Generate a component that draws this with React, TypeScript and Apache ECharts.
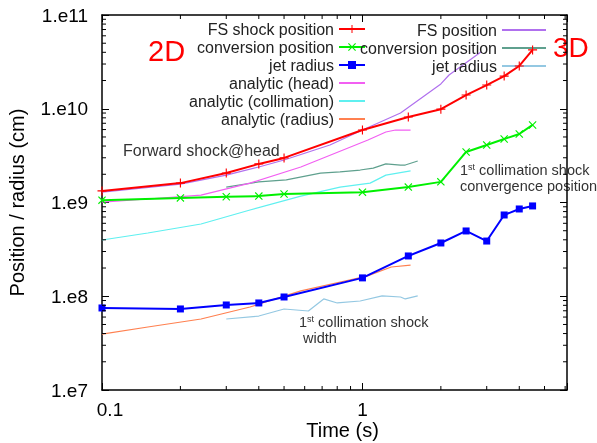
import React, { useEffect, useRef } from 'react';
import * as echarts from 'echarts';

// ---- data ----
const time2D = [0.1, 0.2, 0.3, 0.4, 0.5, 1.0, 1.5, 2.0, 2.5, 3.0, 3.5, 4.0, 4.5];
const fsShock2D = [1.33e9, 1.61e9, 2.06e9, 2.58e9, 2.99e9, 5.93e9, 8.17e9, 9.9e9, 1.4e10, 1.79e10, 2.23e10, 2.86e10, 4.24e10];
const conversion2D = [1.06e9, 1.12e9, 1.15e9, 1.17e9, 1.23e9, 1.29e9, 1.46e9, 1.66e9, 3.46e9, 4.11e9, 4.76e9, 5.38e9, 6.72e9];
const jetRadius2D = [7.5e7, 7.32e7, 8.07e7, 8.48e7, 9.82e7, 1.57e8, 2.69e8, 3.7e8, 4.97e8, 3.88e8, 7.36e8, 8.53e8, 9.19e8];

const headT = [0.1, 0.15, 0.24, 0.37, 0.58, 1.05, 1.23, 1.34, 1.53];
const headR = [1.01e9, 1.09e9, 1.2e9, 1.61e9, 2.39e9, 4.64e9, 5.65e9, 5.93e9, 5.93e9];
const collT = [0.1, 0.15, 0.24, 0.37, 0.58, 0.82, 1.07, 1.23, 1.53];
const collR = [3.98e8, 4.73e8, 5.9e8, 8.32e8, 1.17e9, 1.46e9, 1.61e9, 1.96e9, 2.17e9];
const radT = [0.1, 0.15, 0.24, 0.37, 0.58, 0.89, 1.04, 1.29, 1.53];
const radR = [3.95e7, 4.7e7, 5.72e7, 7.68e7, 1.14e8, 1.49e8, 1.64e8, 2.05e8, 2.15e8];

const fs3DT = [0.1, 0.2, 0.3, 0.4, 0.5, 0.75, 1.0, 1.4, 2.0, 2.15, 2.85];
const fs3DR = [1.29e9, 1.57e9, 1.96e9, 2.39e9, 2.84e9, 4.1e9, 5.93e9, 9.0e9, 1.84e10, 2.29e10, 4.03e10];
const conv3DT = [0.3, 0.4, 0.51, 0.69, 0.82, 0.98, 1.1, 1.23, 1.4, 1.46, 1.63];
const conv3DR = [1.46e9, 1.66e9, 1.74e9, 2.06e9, 2.12e9, 2.22e9, 2.33e9, 2.58e9, 2.51e9, 2.51e9, 2.77e9];
const jet3DT = [0.3, 0.4, 0.5, 0.62, 0.71, 0.8, 0.98, 1.19, 1.4, 1.46, 1.63];
const jet3DR = [5.72e7, 6.15e7, 7.31e7, 6.96e7, 9.36e7, 8.48e7, 8.9e7, 1.01e8, 9.82e7, 9.36e7, 1.01e8];

const xMinorTicks = [0.2, 0.3, 0.4, 0.5, 0.6, 0.7, 0.8, 0.9, 2, 3, 4, 5, 6];
const yDecades = [1e7, 1e8, 1e9, 1e10];
const yMultiples = [2, 3, 4, 5, 6, 7, 8, 9];

const legend2D = ['FS shock position', 'conversion position', 'jet radius', 'analytic (head)', 'analytic (collimation)', 'analytic (radius)'];
const legend3D = ['FS position', 'conversion position (3D)', 'jet radius (3D)'];

const X_MIN = 0.1;
const X_MAX = 6.1;
const Y_MIN = 1e7;
const Y_MAX = 1e11;

const FONT = '"Liberation Sans", Arial, sans-serif';

const PLUS = 'path://M3.5,0h1v3.5h3.5v1h-3.5v3.5h-1v-3.5h-3.5v-1h3.5z';
const CROSS = 'path://M0,0.8L0.8,0L4,3.2L7.2,0L8,0.8L4.8,4L8,7.2L7.2,8L4,4.8L0.8,8L0,7.2L3.2,4z';

const zip = (a: number[], b: number[]) => a.map((v, i) => [v, b[i]]);

export default function App() {
  const ref = useRef<HTMLDivElement>(null);
  useEffect(() => {
    if (!ref.current) return;
    const chart = echarts.init(ref.current, undefined, { renderer: 'svg' });
    const yMinor: number[] = [];
    yDecades.forEach((d) => yMultiples.forEach((m) => yMinor.push(d * m)));

    const axisLine = { show: true, lineStyle: { color: '#000', width: 1.5 } };
    const majorTick = { show: true, inside: true, length: 7, lineStyle: { color: '#000', width: 1 } };

    const lineSeries = (name: string, data: number[][], color: string, width: number, symbol: string, symbolSize: number, z: number) => ({
      type: 'line',
      name,
      data,
      xAxisIndex: 0,
      yAxisIndex: 0,
      symbol,
      symbolSize,
      showSymbol: symbol !== 'none',
      lineStyle: { color, width },
      itemStyle: symbol === 'none' ? { color, opacity: 0 } : { color },
      z,
    });

    const noMark = (name: string) => ({ name, itemStyle: { opacity: 0 } });

    const option: any = {
      animation: false,
      grid: { left: 102, right: 30, top: 15, bottom: 53, containLabel: false, outerBoundsMode: 'none' },
      xAxis: [
        {
          type: 'log', min: X_MIN, max: X_MAX, position: 'bottom',
          axisLine, axisTick: majorTick, splitLine: { show: false },
          axisLabel: {
            margin: 10, fontSize: 19, color: '#000', fontFamily: FONT,
            formatter: (v: number) => (Math.abs(v - 0.1) < 1e-6 ? '{s|0.1}' : Math.abs(v - 1) < 1e-6 ? '1' : ''),
            rich: { s: { fontSize: 19, color: '#000', fontFamily: FONT, padding: [0, 0, 0, 16] } },
          },
          name: 'Time (s)', nameLocation: 'middle', nameGap: 30, nameMoveOverlap: false,
          nameTextStyle: { fontSize: 20, color: '#000', fontFamily: FONT, padding: [0, 0, 0, 16] },
        },
        {
          type: 'log', min: X_MIN, max: X_MAX, position: 'top',
          axisLine, axisTick: majorTick, splitLine: { show: false }, axisLabel: { show: false },
        },
      ],
      yAxis: [
        {
          type: 'log', min: Y_MIN, max: Y_MAX, position: 'left',
          axisLine, axisTick: majorTick, splitLine: { show: false },
          axisLabel: {
            margin: 14, fontSize: 19, color: '#000', fontFamily: FONT, padding: [8, 0, 0, 0],
            formatter: (v: number) => '1.e' + Math.round(Math.log10(v)),
          },
          name: 'Position / radius (cm)', nameLocation: 'middle', nameGap: 75,
          nameTextStyle: { fontSize: 20, color: '#000', fontFamily: FONT },
        },
        {
          type: 'log', min: Y_MIN, max: Y_MAX, position: 'right',
          axisLine, axisTick: majorTick, splitLine: { show: false }, axisLabel: { show: false },
        },
      ],
      legend: [
        {
          data: [legend2D[0], legend2D[1], legend2D[2], noMark(legend2D[3]), noMark(legend2D[4]), noMark(legend2D[5])],
          orient: 'vertical', right: 231, top: 21, align: 'right',
          itemWidth: 26, itemHeight: 10, itemGap: 2, padding: 0, selectedMode: false,
          textStyle: { fontSize: 16, color: '#222', fontFamily: FONT },
        },
        {
          data: legend3D.map(noMark), orient: 'vertical', right: 50, top: 22, align: 'right',
          itemWidth: 44, itemHeight: 10, itemGap: 2, padding: 0, selectedMode: false,
          formatter: (n: string) => n.replace(' (3D)', ''),
          textStyle: { fontSize: 16, color: '#222', fontFamily: FONT },
        },
      ],
      series: [
        lineSeries('FS position', zip(fs3DT, fs3DR), '#b070ee', 1.2, 'none', 0, 3),
        lineSeries('conversion position (3D)', zip(conv3DT, conv3DR), '#5fa08e', 1.2, 'none', 0, 3),
        lineSeries('jet radius (3D)', zip(jet3DT, jet3DR), '#94c8e2', 1.2, 'none', 0, 3),
        lineSeries('analytic (head)', zip(headT, headR), '#f25ff2', 1.2, 'none', 0, 4),
        lineSeries('analytic (collimation)', zip(collT, collR), '#5ff0f0', 1.2, 'none', 0, 4),
        lineSeries('analytic (radius)', zip(radT, radR), '#ff8050', 1.2, 'none', 0, 4),
        lineSeries('FS shock position', zip(time2D, fsShock2D), '#ff0000', 2, PLUS, 9, 6),
        lineSeries('conversion position', zip(time2D, conversion2D), '#00f000', 2, CROSS, 8, 6),
        lineSeries('jet radius', zip(time2D, jetRadius2D), '#0000ff', 2, 'rect', 7, 6),
        {
          type: 'custom', xAxisIndex: 0, yAxisIndex: 0, silent: true, clip: false, z: 10,
          data: xMinorTicks.map((v) => [v, Y_MIN]),
          renderItem: (_p: any, api: any) => {
            const v = api.value(0);
            const b = api.coord([v, Y_MIN]);
            const t = api.coord([v, Y_MAX]);
            return {
              type: 'group',
              children: [
                { type: 'line', shape: { x1: b[0], y1: b[1], x2: b[0], y2: b[1] - 4 }, style: { stroke: '#000', lineWidth: 1 } },
                { type: 'line', shape: { x1: t[0], y1: t[1], x2: t[0], y2: t[1] + 4 }, style: { stroke: '#000', lineWidth: 1 } },
              ],
            };
          },
        },
        {
          type: 'custom', xAxisIndex: 0, yAxisIndex: 0, silent: true, clip: false, z: 10,
          data: yMinor.map((v) => [X_MIN, v]),
          renderItem: (_p: any, api: any) => {
            const v = api.value(1);
            const l = api.coord([X_MIN, v]);
            const r = api.coord([X_MAX, v]);
            return {
              type: 'group',
              children: [
                { type: 'line', shape: { x1: l[0], y1: l[1], x2: l[0] + 4, y2: l[1] }, style: { stroke: '#000', lineWidth: 1 } },
                { type: 'line', shape: { x1: r[0], y1: r[1], x2: r[0] - 4, y2: r[1] }, style: { stroke: '#000', lineWidth: 1 } },
              ],
            };
          },
        },
      ],
      graphic: [
        { type: 'text', x: 148, y: 51, style: { text: '2D', fill: '#ff0000', fontSize: 29, fontFamily: FONT, verticalAlign: 'middle', align: 'left' } },
        { type: 'text', x: 553, y: 47, style: { text: '3D', fill: '#ff0000', fontSize: 28, fontFamily: FONT, verticalAlign: 'middle', align: 'left' } },
        { type: 'text', x: 123, y: 150, style: { text: 'Forward shock@head', fill: '#333', fontSize: 16, fontFamily: FONT, verticalAlign: 'middle', align: 'left' } },
        {
          type: 'text', x: 460, y: 162,
          style: {
            text: '{a|1}{b|st}{a| collimation shock}\n{a|convergence position}',
            verticalAlign: 'top', align: 'left',
            rich: {
              a: { fontSize: 14.5, fill: '#333', color: '#333', fontFamily: FONT, lineHeight: 16 },
              b: { fontSize: 9, fill: '#333', color: '#333', fontFamily: FONT, lineHeight: 16, verticalAlign: 'top' },
            },
          },
        },
        {
          type: 'text', x: 299, y: 314,
          style: {
            text: '{a|1}{b|st}{a| collimation shock}\n{a| width}',
            verticalAlign: 'top', align: 'left',
            rich: {
              a: { fontSize: 14.5, fill: '#333', color: '#333', fontFamily: FONT, lineHeight: 16 },
              b: { fontSize: 9, fill: '#333', color: '#333', fontFamily: FONT, lineHeight: 16, verticalAlign: 'top' },
            },
          },
        },
      ],
    };
    chart.setOption(option);
    return () => chart.dispose();
  }, []);
  return <div ref={ref} style={{ position: 'fixed', left: 0, top: 0, width: 597, height: 443 }} />;
}
